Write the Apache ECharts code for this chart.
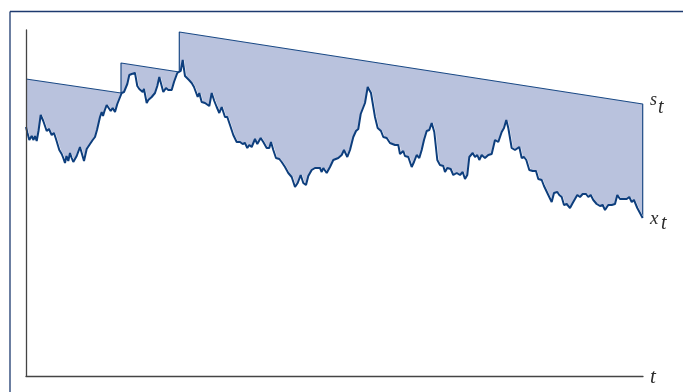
<!DOCTYPE html>
<html>
<head>
<meta charset="utf-8">
<script src="https://cdn.jsdelivr.net/npm/echarts@6/dist/echarts.min.js"></script>
<style>
  html, body { margin: 0; padding: 0; background: #fff; }
  #chart { width: 683px; height: 392px; }
</style>
</head>
<body>
<div id="chart"></div>
<script>
// x_t path, [t, x] pairs
var xt = [
  [0,249],[1.5,243],[3.3,236],[5.7,240],[7.5,236],[9,240],[10.7,235],[12.5,245],[14.7,261],[17.3,255],
  [20.7,245],[23,247],[25.7,241],[28,243],[30,237],[31.5,239],[33.3,226],[35.7,222],[37.3,218],[39,213],
  [40.5,220],[42.3,215],[44,223],[45.7,218],[47.3,214],[50.7,220],[54,229],[56,222],[58,215],[60.7,227],
  [64,232],[66.7,236],[69,239],[71,246],[74,259],[75.7,264],[77,260],[78.5,265],[80.7,271],[82.3,272],
  [84.7,265],[86.7,268],[89,264],[91.3,272],[93.3,277],[95.7,283],[98,284],[99.5,285],[101.3,292],[103.3,301],
  [105.7,302],[107.3,300],[109,303],[111.3,290],[113.3,287],[114.7,289],[116.7,284],[118,287],[120.7,273],[122.3,276],
  [125.7,279],[129,283],[131.3,290],[133.3,299],[135.7,290],[137.3,284],[140,288],[142.3,286],[144,284],[145.7,286],
  [148,294],[151.3,303],[153.3,304],[154.7,305],[156.7,316],[159,300],[161,301],[163,296],[165.7,293],[168,289],
  [170,288],[171.7,279],[173.3,283],[175.7,274],[179,273],[183.3,270],[185.7,283],[188.3,275],[190.7,269],[193.3,263],
  [195.7,269],[199,259],[201.3,259],[204,251],[207.3,241],[210.7,234],[212.3,233],[214,234],[216.7,232],[219,233],
  [221.3,228],[223.3,231],[225.7,229],[229,237],[231.3,232],[234.7,238],[237.3,234],[240.7,228],[243.3,228],[245,234],
  [247.3,226],[250,218],[253.3,217],[255.7,214],[259,209],[260.7,211],[262.3,203],[264,204],[265.7,199],[269,189],
  [271.7,193],[274.7,201],[277.3,193],[280,191],[282.3,200],[285.7,206],[289,208],[290.7,207],[294,208],[295.7,204],
  [297.3,208],[300.7,203],[304,209],[307.3,216],[312.3,218],[315.7,221],[318,226],[321.3,219],[324,226],[327.3,239],
  [330,245],[332.3,247],[334.7,262],[339,273],[341.7,289],[345,283],[349,259],[351.7,248],[355,245],[357.3,239],
  [360.7,238],[364,233],[369,231],[372.3,231],[374,222],[377.3,225],[379,220],[382.3,219],[385.7,209],[388,214],
  [390.7,221],[393.3,218],[395.7,226],[398,236],[400.7,245],[403.3,246],[405.7,253],[408.3,244],[411.3,216],[414,211],
  [417.3,210],[419,204],[421.3,208],[424.7,207],[427.3,201],[430.7,203],[434,201],[436.7,204],[439,197],[441.3,201],
  [443.3,219],[446.7,223],[449,219],[451.3,221],[453.3,216],[455.7,221],[459,218],[462.3,221],[465.7,222],[469,236],
  [472.3,234],[475.7,244],[478,248],[480.3,256],[482.3,248],[485.7,228],[489,226],[493.3,229],[495.7,218],[498,219],
  [500.3,216],[503.3,206],[506.7,205],[510,205],[512.3,197],[515.7,196],[518,190],[520,189],[522.3,181],[525.7,174],
  [528,183],[531.3,184],[533.3,181],[535.7,179],[538,171],[540.7,172],[544,168],[546.7,173],[549,177],[551.3,181],
  [554,179],[556.7,182],[560,182],[562.3,179],[564.7,181],[567.3,176],[570.7,172],[574,170],[576.7,171],[579,166],
  [582.3,171],[585.7,171],[589,172],[591.3,181],[594,177],[597.3,177],[600.7,177],[603.3,179],[605.7,174],[608,176],
  [611.3,168],[616.7,158]
]

// s_t: decaying level, resets at the jumps
var st = [
  [0,297],[95,283],[95,313],[153.3,304],[153.3,344],[616.7,272],[616.7,158]
]

var tMax = 617
var yMax = 346

var fillColor = '#b9c2dd'
var lineColor = '#0d3e7d'
var serif = '"Liberation Serif", "DejaVu Serif", serif'

var chart = echarts.init(document.getElementById('chart'))

function label(x, y, text, size) {
  return {
    type: 'text',
    left: x,
    top: y,
    style: {
      text: text,
      font: 'italic ' + size + 'px ' + serif,
      fill: '#2b2b2b'
    }
  }
}

chart.setOption({
  animation: false,
  grid: {
    left: 26,
    right: 40,
    top: 30,
    bottom: 16
  },
  xAxis: {
    type: 'value',
    min: 0,
    max: tMax,
    z: 10,
    axisLine: { show: true, onZero: false, lineStyle: { color: '#444', width: 1.3 } },
    axisTick: { show: false },
    axisLabel: { show: false },
    splitLine: { show: false }
  },
  yAxis: {
    type: 'value',
    min: 0,
    max: yMax,
    z: 10,
    axisLine: { show: true, onZero: false, lineStyle: { color: '#444', width: 1.3 } },
    axisTick: { show: false },
    axisLabel: { show: false },
    splitLine: { show: false }
  },
  series: [
    {
      name: 's_t',
      type: 'line',
      data: st,
      symbol: 'none',
      lineStyle: { color: '#1b4a86', width: 1.2 },
      areaStyle: { color: fillColor, opacity: 1, origin: 'start' },
      z: 2
    },
    {
      name: 'x_t',
      type: 'line',
      data: xt,
      symbol: 'none',
      lineStyle: { color: lineColor, width: 2 },
      // white under x_t hides the s_t fill; the shadow covers the seam at the right end
      areaStyle: { color: '#fff', opacity: 1, origin: 'start', shadowColor: '#fff', shadowBlur: 0, shadowOffsetX: 1.5 },
      z: 3
    }
  ],
  graphic: [
    // frame round the figure
    { type: 'line', shape: { x1: 10, y1: 11.5, x2: 683, y2: 11.5 }, style: { stroke: '#1d3a6f', lineWidth: 1.3 } },
    { type: 'line', shape: { x1: 10, y1: 11.5, x2: 10, y2: 392 }, style: { stroke: '#1d3a6f', lineWidth: 1.3 } },
    label(650, 91, 's', 18),
    label(658, 98, 't', 20),
    label(650, 209, 'x', 19),
    label(661, 214, 't', 20),
    label(650, 367, 't', 21)
  ]
})
</script>
</body>
</html>
